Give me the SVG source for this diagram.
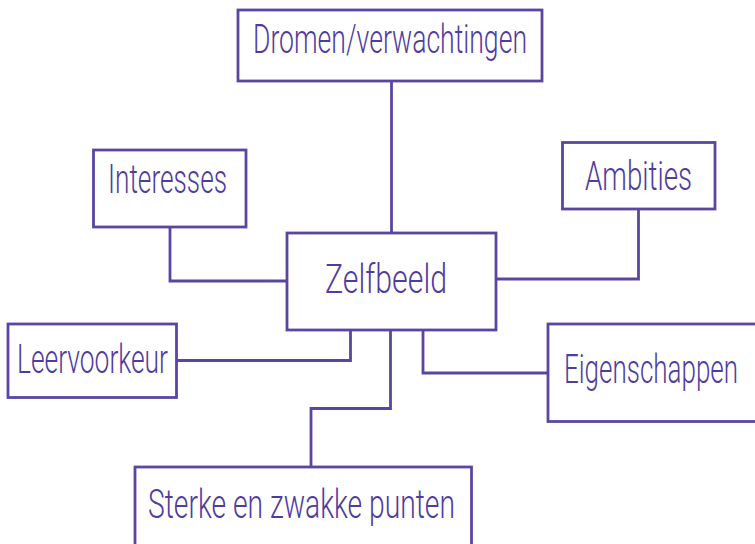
<svg xmlns="http://www.w3.org/2000/svg" width="755" height="544" viewBox="0 0 755 544">
<style>
.box{fill:#fff;stroke:#5a46a2;stroke-width:2.8}
.ln{fill:none;stroke:#5a46a2;stroke-width:2.8}
.t{font-family:Roboto,"Liberation Sans",sans-serif;font-weight:300;font-size:40px;fill:#4f3d9e;text-anchor:start}
</style>
<rect width="755" height="544" fill="#fff"/>
<g id="connectors">
<path class="ln" d="M391.5,81 V233"/>
<path class="ln" d="M170,227 V281 H287"/>
<path class="ln" d="M638.5,209 V279 H496"/>
<path class="ln" d="M176,360.5 H350.5 V330"/>
<path class="ln" d="M423,330 V373 H548"/>
<path class="ln" d="M390.5,330 V408.5 H311 V467"/>
</g>
<g id="dromen">
<rect class="box" x="238" y="10" width="304" height="71"/>
<text class="t" x="253" y="53" textLength="274" lengthAdjust="spacingAndGlyphs">Dromen/verwachtingen</text>
</g>
<g id="interesses">
<rect class="box" x="93.5" y="150" width="152.5" height="77"/>
<text class="t" x="108" y="193" textLength="119" lengthAdjust="spacingAndGlyphs">Interesses</text>
</g>
<g id="ambities">
<rect class="box" x="562.5" y="142.5" width="152.5" height="66.5"/>
<text class="t" x="585" y="190" textLength="107" lengthAdjust="spacingAndGlyphs">Ambities</text>
</g>
<g id="zelfbeeld">
<rect class="box" x="287" y="233" width="209" height="97"/>
<text class="t" x="325" y="293" textLength="122" lengthAdjust="spacingAndGlyphs">Zelfbeeld</text>
</g>
<g id="leervoorkeur">
<rect class="box" x="8" y="324" width="168.5" height="73.5"/>
<text class="t" x="17" y="373" textLength="151" lengthAdjust="spacingAndGlyphs">Leervoorkeur</text>
</g>
<g id="eigenschappen">
<rect class="box" x="548" y="324" width="222" height="97.5"/>
<text class="t" x="564" y="383" textLength="174" lengthAdjust="spacingAndGlyphs">Eigenschappen</text>
</g>
<g id="sterke">
<rect class="box" x="135" y="467" width="336.5" height="95"/>
<text class="t" x="148" y="518" textLength="307" lengthAdjust="spacingAndGlyphs">Sterke en zwakke punten</text>
</g>
</svg>
